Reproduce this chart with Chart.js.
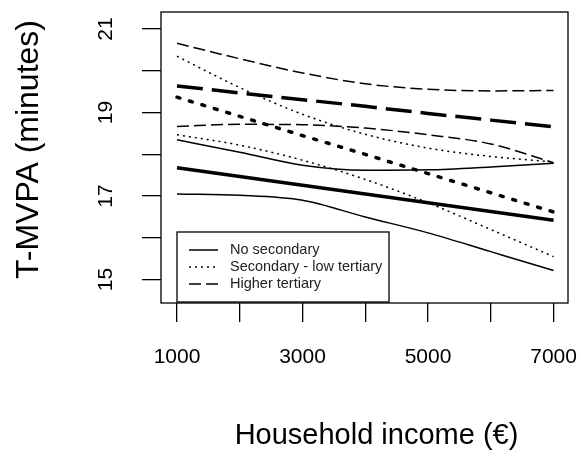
<!DOCTYPE html>
<html>
<head>
<meta charset="utf-8">
<script src="https://cdn.jsdelivr.net/npm/chart.js@4"></script>
<style>
  html, body { margin: 0; padding: 0; background: #fff; }
  #wrap { width: 581px; height: 456px; }
</style>
</head>
<body>
<div id="wrap"><canvas id="plot"></canvas></div>
<script>
// household income (x) and fitted T-MVPA with 95% CI per education group
var incomes = [1000, 2000, 3000, 4000, 5000, 6000, 7000];
var xTickLabels = [1000, 3000, 5000, 7000];
var yTickValues = [15, 16, 17, 18, 19, 20, 21];
var yTickLabels = [15, 17, 19, 21];
var groups = ['No secondary', 'Secondary - low tertiary', 'Higher tertiary'];
var xTitle = 'Household income (€)';
var yTitle = 'T-MVPA (minutes)';

var noSecUpper = [18.35, 18.05, 17.74, 17.62, 17.63, 17.70, 17.79];
var noSecMean  = [17.68, 17.47, 17.26, 17.05, 16.84, 16.63, 16.42];
var noSecLower = [17.05, 17.02, 16.90, 16.50, 16.12, 15.67, 15.22];

var secUpper = [20.35, 19.60, 18.96, 18.48, 18.15, 17.95, 17.82];
var secMean  = [19.37, 18.91, 18.45, 18.00, 17.54, 17.08, 16.62];
var secLower = [18.47, 18.22, 17.86, 17.40, 16.84, 16.20, 15.55];

var highUpper = [20.66, 20.29, 19.95, 19.69, 19.56, 19.52, 19.53];
var highMean  = [19.64, 19.47, 19.31, 19.15, 18.98, 18.82, 18.66];
var highLower = [18.67, 18.72, 18.71, 18.63, 18.47, 18.25, 17.80];

var solid = [], dotted = [2, 4], dashed = [12, 5];
var thickDotted = [3, 10], thickDashed = [26, 9];
var FONT = 'Arial, "Liberation Sans", sans-serif';

function pts(ys) {
  return incomes.map(function (x, i) { return { x: x, y: ys[i] }; });
}

function line(label, ys, width, dash, curved) {
  return {
    label: label,
    data: pts(ys),
    borderColor: '#000',
    borderWidth: width,
    borderDash: dash,
    borderCapStyle: dash === thickDotted ? 'round' : 'butt',
    pointRadius: 0,
    fill: false,
    tension: curved ? 0.4 : 0,
    cubicInterpolationMode: curved ? 'monotone' : 'default'
  };
}

function noPad(s) {
  s.paddingTop = 0; s.paddingBottom = 0; s.paddingLeft = 0; s.paddingRight = 0;
}

// box around the plot region, legend inside it and the two axis titles, R style
var boxAndLegend = {
  id: 'boxAndLegend',
  afterDatasetsDraw: function (chart) {
    var ctx = chart.ctx, a = chart.chartArea;
    ctx.save();
    ctx.strokeStyle = '#000';
    ctx.lineWidth = 1.3;
    ctx.strokeRect(a.left, a.top, a.right - a.left, a.bottom - a.top);

    var lx = chart.scales.x.getPixelForValue(1000);
    var ly = a.bottom - 71;
    ctx.fillStyle = '#fff';
    ctx.fillRect(lx, ly, 212, 70);
    ctx.strokeRect(lx, ly, 212, 70);

    var styles = [solid, dotted, dashed];
    ctx.font = '14.5px ' + FONT;
    ctx.textBaseline = 'middle';
    groups.forEach(function (g, i) {
      var y = ly + 18 + i * 17;
      ctx.setLineDash(styles[i]);
      ctx.lineWidth = 1.5;
      ctx.beginPath();
      ctx.moveTo(lx + 12, y);
      ctx.lineTo(lx + 41, y);
      ctx.stroke();
      ctx.setLineDash([]);
      ctx.fillStyle = '#222';
      ctx.fillText(g, lx + 53, y);
    });

    // axis titles
    ctx.fillStyle = '#000';
    ctx.textAlign = 'center';
    ctx.font = '29px ' + FONT;
    ctx.fillText(xTitle, (a.left + a.right) / 2 + 12, 436);
    ctx.translate(29, (a.top + a.bottom) / 2 - 8);
    ctx.rotate(-Math.PI / 2);
    ctx.font = '32px ' + FONT;
    ctx.fillText(yTitle, 0, 0);
    ctx.restore();
  }
};

var ctx = document.getElementById('plot').getContext('2d');
var myChart = new Chart(ctx, {
  type: 'line',
  data: {
    datasets: [
      line('noSecUpper', noSecUpper, 1.5, solid, true),
      line('noSecMean', noSecMean, 3.5, solid, false),
      line('noSecLower', noSecLower, 1.5, solid, true),
      line('secUpper', secUpper, 1.5, dotted, true),
      line('secMean', secMean, 3.5, thickDotted, false),
      line('secLower', secLower, 1.5, dotted, true),
      line('highUpper', highUpper, 1.5, dashed, true),
      line('highMean', highMean, 3.5, thickDashed, false),
      line('highLower', highLower, 1.5, dashed, true)
    ]
  },
  options: {
    animation: false,
    responsive: true,
    maintainAspectRatio: false,
    layout: { padding: { top: 12, right: 13, left: 0, bottom: 0 } },
    plugins: {
      legend: { display: false },
      tooltip: { enabled: false }
    },
    scales: {
      x: {
        type: 'linear',
        min: 745,
        max: 7230,
        afterBuildTicks: function (s) { s.ticks = incomes.map(function (v) { return { value: v }; }); },
        afterFit: function (s) { s.height = 153; noPad(s); },
        border: { display: false },
        grid: { drawOnChartArea: false, drawTicks: true, tickLength: 19, color: '#000', lineWidth: 1.3 },
        ticks: {
          autoSkip: false,
          maxRotation: 0,
          padding: 23,
          color: '#000',
          font: { family: FONT, size: 21 },
          callback: function (v) { return xTickLabels.indexOf(v) >= 0 ? String(v) : ''; }
        }
      },
      y: {
        min: 14.44,
        max: 21.41,
        afterBuildTicks: function (s) { s.ticks = yTickValues.map(function (v) { return { value: v }; }); },
        afterFit: function (s) { s.width = 161; noPad(s); },
        border: { display: false },
        grid: { drawOnChartArea: false, drawTicks: true, tickLength: 19, color: '#000', lineWidth: 1.3 },
        ticks: {
          minRotation: 90,
          maxRotation: 90,
          crossAlign: 'center',
          padding: 24,
          color: '#000',
          font: { family: FONT, size: 21 },
          callback: function (v) { return yTickLabels.indexOf(v) >= 0 ? String(v) : ''; }
        }
      }
    }
  },
  plugins: [boxAndLegend]
});
</script>
</body>
</html>
